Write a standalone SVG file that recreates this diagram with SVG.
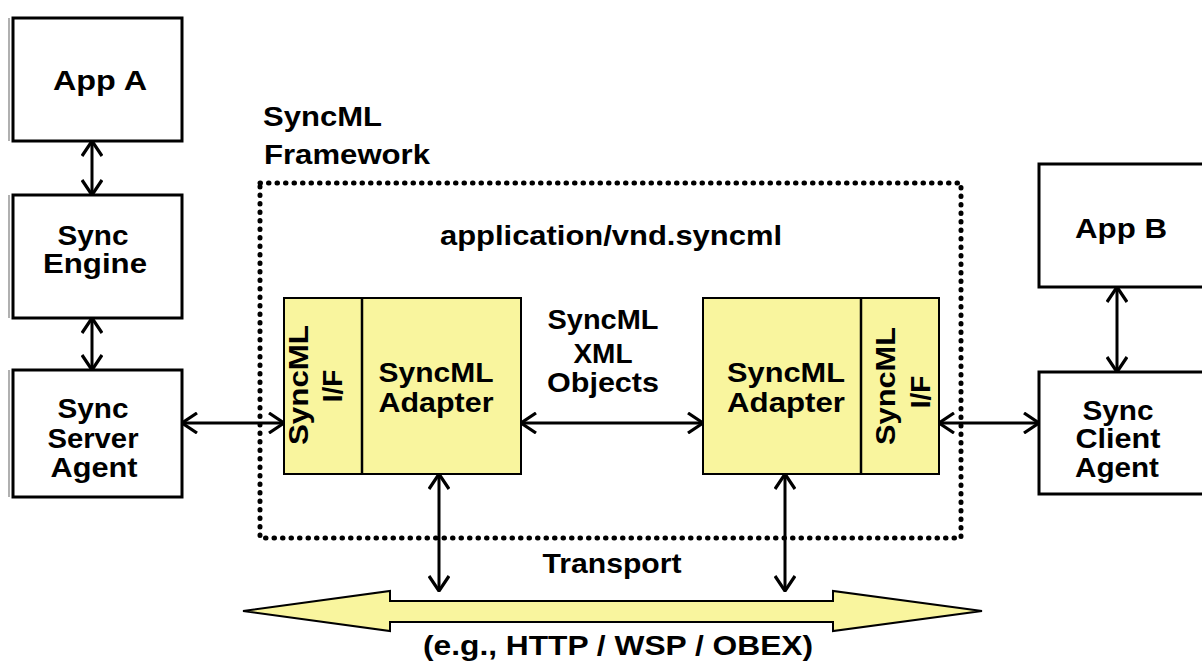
<svg xmlns="http://www.w3.org/2000/svg" width="1202" height="668" viewBox="0 0 1202 668">
<style>
.box{fill:#fff;stroke:#000;stroke-width:3}
.ybox{fill:#f9f59e;stroke:#000;stroke-width:2}
.div{stroke:#000;stroke-width:2.5}
.t{font-family:"Liberation Sans",Arial,sans-serif;font-weight:bold;font-size:28px;fill:#000;text-anchor:middle}
.ta{font-family:"Liberation Sans",Arial,sans-serif;font-weight:bold;font-size:28px;fill:#000}
.conn{stroke:#000;stroke-width:3;fill:none;marker-start:url(#ah);marker-end:url(#ah)}
.frame{fill:none;stroke:#000;stroke-width:5;stroke-linecap:round;stroke-dasharray:0.5 8}
.ghost{stroke:#b0b0b0;stroke-width:2}
</style>
<defs>
<marker id="ah" viewBox="0 0 17 22" refX="16" refY="11" markerWidth="17" markerHeight="22" markerUnits="userSpaceOnUse" orient="auto-start-reverse">
<path d="M1,1 L16,11 L1,21" fill="none" stroke="#000" stroke-width="3.2"/>
</marker>
</defs>
<rect width="1202" height="668" fill="#fff"/>

<g id="framework">
<rect class="frame" x="260" y="183" width="701" height="355"/>
<text class="ta" x="263" y="126" textLength="119" lengthAdjust="spacingAndGlyphs">SyncML</text>
<text class="ta" x="264" y="164" textLength="166" lengthAdjust="spacingAndGlyphs">Framework</text>
<text class="t" x="611" y="245" font-size="26" textLength="342" lengthAdjust="spacingAndGlyphs">application/vnd.syncml</text>
</g>

<g id="app-a">
<line class="ghost" x1="9" y1="18" x2="9" y2="141"/>
<rect class="box" x="13" y="18" width="169" height="123"/>
<text class="t" x="100" y="90" textLength="94" lengthAdjust="spacingAndGlyphs">App A</text>
</g>

<g id="sync-engine">
<line class="ghost" x1="9" y1="195" x2="9" y2="318"/>
<rect class="box" x="13" y="195" width="169" height="123"/>
<text class="t" x="93" y="245" textLength="71" lengthAdjust="spacingAndGlyphs">Sync</text>
<text class="t" x="95" y="273" textLength="104" lengthAdjust="spacingAndGlyphs">Engine</text>
</g>

<g id="sync-server-agent">
<line class="ghost" x1="9" y1="370" x2="9" y2="497"/>
<rect class="box" x="13" y="370" width="169" height="127"/>
<text class="t" x="93" y="418" textLength="71" lengthAdjust="spacingAndGlyphs">Sync</text>
<text class="t" x="93" y="448" textLength="91" lengthAdjust="spacingAndGlyphs">Server</text>
<text class="t" x="94" y="477" textLength="87" lengthAdjust="spacingAndGlyphs">Agent</text>
</g>

<g id="app-b">
<rect class="box" x="1039" y="164" width="170" height="123"/>
<text class="t" x="1121" y="238" textLength="92" lengthAdjust="spacingAndGlyphs">App B</text>
</g>

<g id="sync-client-agent">
<rect class="box" x="1039" y="372" width="170" height="122"/>
<text class="t" x="1118" y="420" textLength="71" lengthAdjust="spacingAndGlyphs">Sync</text>
<text class="t" x="1118" y="448" textLength="85" lengthAdjust="spacingAndGlyphs">Client</text>
<text class="t" x="1117" y="477" textLength="84" lengthAdjust="spacingAndGlyphs">Agent</text>
</g>

<g id="left-adapter">
<rect class="ybox" x="284" y="298" width="237" height="176"/>
<line class="div" x1="362" y1="298" x2="362" y2="474"/>
<text class="t" transform="translate(308,385) rotate(-90)" font-size="30" textLength="120" lengthAdjust="spacingAndGlyphs">SyncML</text>
<text class="t" transform="translate(342,386) rotate(-90)" font-size="30">I/F</text>
<text class="t" x="436" y="382" font-size="30" textLength="115" lengthAdjust="spacingAndGlyphs">SyncML</text>
<text class="t" x="436" y="412" font-size="30" textLength="115" lengthAdjust="spacingAndGlyphs">Adapter</text>
</g>

<g id="right-adapter">
<rect class="ybox" x="703" y="298" width="236" height="176"/>
<line class="div" x1="861" y1="298" x2="861" y2="474"/>
<text class="t" transform="translate(895,386) rotate(-90)" font-size="30" textLength="118" lengthAdjust="spacingAndGlyphs">SyncML</text>
<text class="t" transform="translate(930,392) rotate(-90)" font-size="30">I/F</text>
<text class="t" x="786" y="382" font-size="30" textLength="118" lengthAdjust="spacingAndGlyphs">SyncML</text>
<text class="t" x="786" y="412" font-size="30" textLength="118" lengthAdjust="spacingAndGlyphs">Adapter</text>
</g>

<g id="xml-objects-label">
<text class="t" x="603" y="329" font-size="29" textLength="111" lengthAdjust="spacingAndGlyphs">SyncML</text>
<text class="t" x="603" y="363" font-size="29">XML</text>
<text class="t" x="603" y="392" font-size="29" textLength="112" lengthAdjust="spacingAndGlyphs">Objects</text>
</g>

<g id="transport">
<polygon points="243,611 390,591 390,601 833,601 833,591 982,611 833,631 833,622 390,622 390,631" fill="#f9f59e" stroke="#000" stroke-width="2" stroke-linejoin="miter"/>
<text class="t" x="612" y="573" font-size="29" textLength="139" lengthAdjust="spacingAndGlyphs">Transport</text>
<text class="t" x="618" y="655" font-size="28" textLength="390" lengthAdjust="spacingAndGlyphs">(e.g., HTTP / WSP / OBEX)</text>
</g>

<g id="connectors">
<line class="conn" x1="92" y1="141" x2="92" y2="195"/>
<line class="conn" x1="92" y1="318" x2="92" y2="370"/>
<line class="conn" x1="1117" y1="287" x2="1117" y2="372"/>
<line class="conn" x1="182" y1="423" x2="284" y2="423"/>
<line class="conn" x1="521" y1="423" x2="703" y2="423"/>
<line class="conn" x1="939" y1="423" x2="1039" y2="423"/>
<line class="conn" x1="439" y1="474" x2="439" y2="591"/>
<line class="conn" x1="785" y1="474" x2="785" y2="591"/>
</g>
</svg>
